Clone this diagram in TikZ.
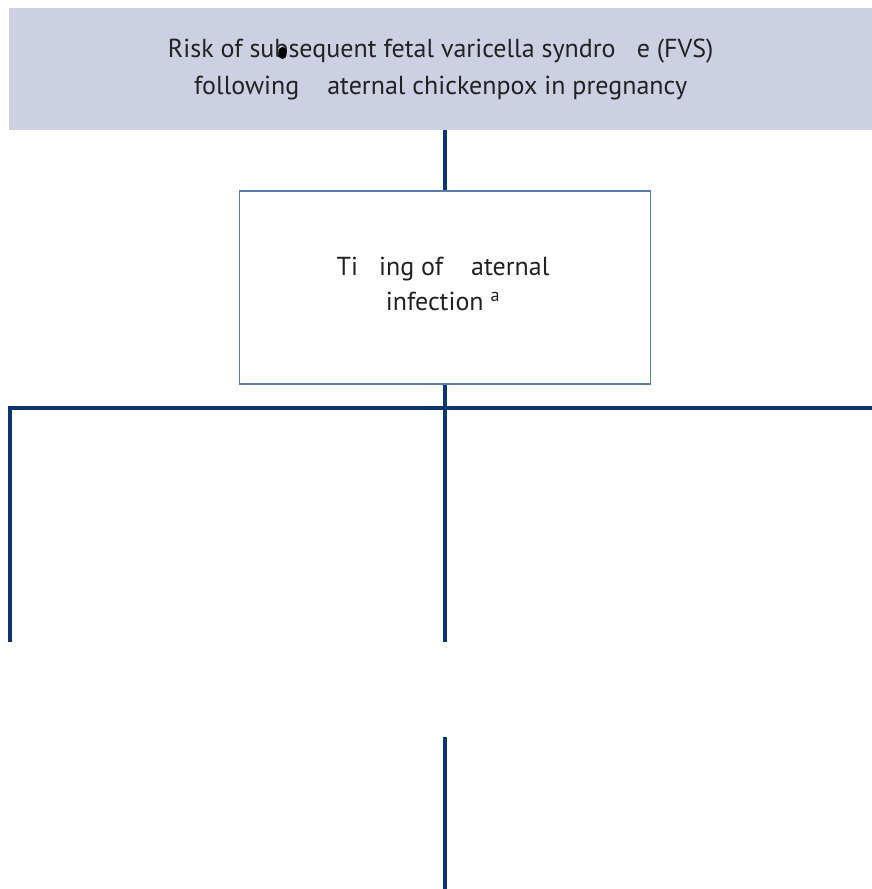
\documentclass[tikz,border=0pt]{standalone}
\usepackage{fontspec}
\setmainfont{PT Sans}
\definecolor{headfill}{HTML}{CDD0E3}
\definecolor{navy}{HTML}{0B3672}
\definecolor{boxedge}{HTML}{5B7BAA}
\definecolor{inktext}{HTML}{222222}
\tikzset{
  headbox/.style={fill=headfill, inner sep=0pt, anchor=north west, align=center,
    text=inktext, font=\fontsize{26}{37}\selectfont},
  timingbox/.style={draw=boxedge, line width=1.3pt, fill=white, inner sep=0pt},
  timingtext/.style={inner sep=0pt, align=center, text=inktext,
    font=\fontsize{26}{35}\selectfont},
  link/.style={draw=navy, line width=3.2pt},
}
\begin{document}
\begin{tikzpicture}[x=1pt, y=-1pt]
  \useasboundingbox (0,0) rectangle (872,889);
  % heading band
  \node[headbox, minimum width=863pt, minimum height=122pt] (title) at (9,8)
    {Risk of subsequent fetal varicella syndro\phantom{m}e (FVS)\\
     following \phantom{m}aternal chickenpox in pregnancy};
  \fill[black] (282.5,53) ellipse [x radius=4.2, y radius=6.2];
  % timing box and its label
  \node[timingbox, minimum width=411pt, minimum height=193pt] (timing) at (445,287.5) {};
  \node[timingtext] (timinglabel) at ([yshift=4pt,xshift=-2pt]timing.center)
    {Ti\phantom{m}ing of \phantom{m}aternal\\infection \textsuperscript{a}};
  % branch points
  \coordinate (split) at (445,408);
  \coordinate (leftcorner) at (10,408);
  \coordinate (rightend) at (872,408);
  \coordinate (leftfoot) at (10,642);
  \coordinate (midfoot) at (445,642);
  \coordinate (lowtop) at (445,737);
  \coordinate (lowfoot) at (445,889);
  % connectors
  \draw[link] (title.south -| timing.north) -- (timing.north);
  \draw[link] (timing.south) -- (split);
  \draw[link] (leftfoot) -- (leftcorner) -- (rightend);
  \draw[link] (split) -- (midfoot);
  \draw[link] (lowtop) -- (lowfoot);
\end{tikzpicture}
\end{document}
